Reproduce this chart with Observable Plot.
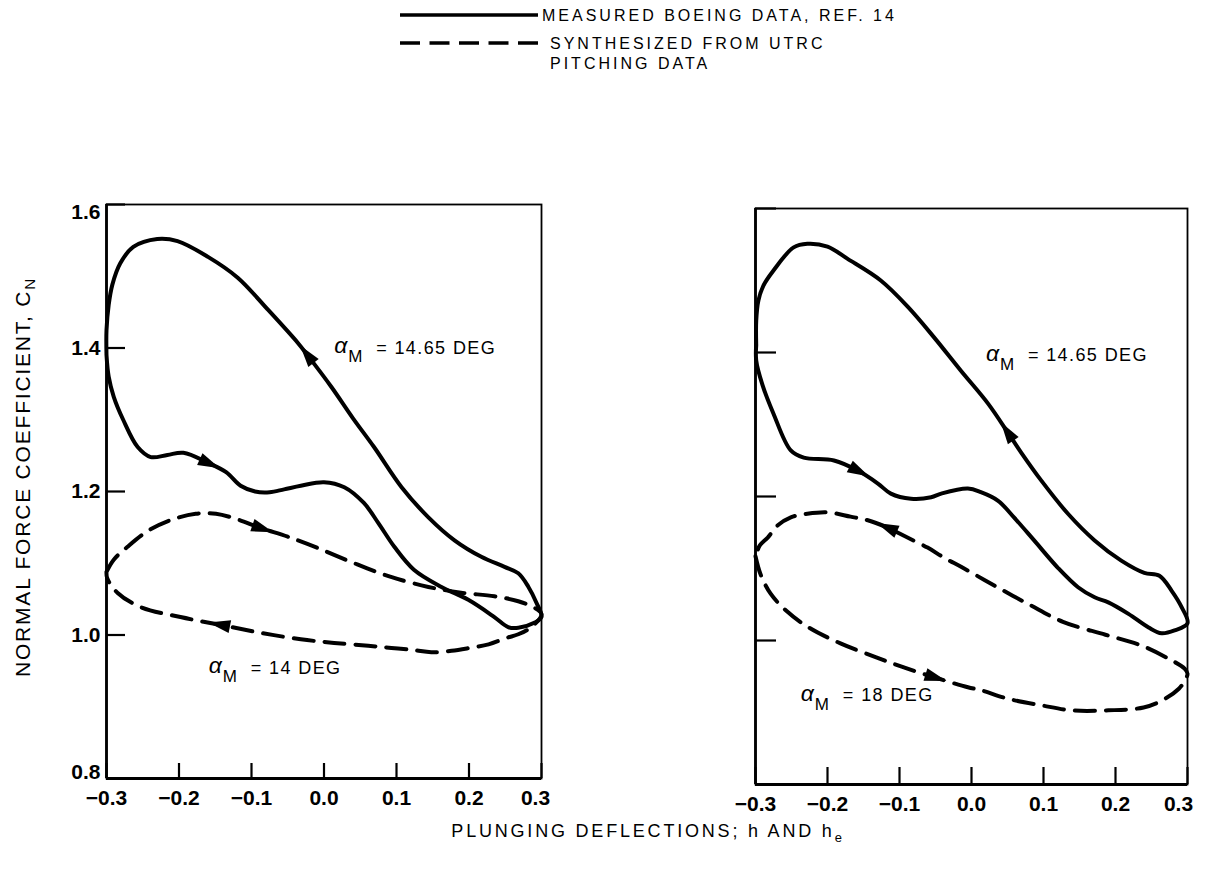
<!DOCTYPE html>
<html>
<head>
<meta charset="utf-8">
<script src="https://cdn.jsdelivr.net/npm/d3@7"></script>
<script src="https://cdn.jsdelivr.net/npm/@observablehq/plot@0.6"></script>
<style>
  html, body { margin: 0; background: #fff; }
  #fig { position: relative; width: 1205px; height: 872px; overflow: hidden; color: #000;
         font-family: "Liberation Sans", Arial, Helvetica, sans-serif; }
  .panel { position: absolute; top: 180px; }
  .title { position: absolute; white-space: nowrap; line-height: 1; transform: translate(-50%, -50%); }
  .ytitle { left: 22px; top: 477px; font-size: 21px; letter-spacing: 1.8px; transform: translate(-50%, -50%) rotate(-90deg); }
  .xtitle { left: 648px; top: 831px; font-size: 18px; letter-spacing: 2.8px; }
  .title sub { font-size: 0.72em; vertical-align: -0.35em; line-height: 0; }
  #legend text { font-size: 16px; letter-spacing: 3px; dominant-baseline: central; }
  .panel svg [aria-label="text"] text { letter-spacing: 1.4px; }
</style>
</head>
<body>
<div id="fig">
  <svg id="legend" width="1205" height="80" style="position:absolute;left:0;top:0"></svg>
  <div id="left" class="panel" style="left:0;width:580px"></div>
  <div id="right" class="panel" style="left:640px;width:565px"></div>
  <div class="title ytitle">NORMAL FORCE COEFFICIENT, C<sub>N</sub></div>
  <div class="title xtitle">PLUNGING DEFLECTIONS; h AND h<sub>e</sub></div>
</div>
<script>
// Axis ticks
const xTicks = [-0.3, -0.2, -0.1, 0, 0.1, 0.2, 0.3];
const yTicks = [0.8, 1.0, 1.2, 1.4, 1.6];

// Left panel, measured Boeing loop (alpha_M = 14.65 deg), in order of travel
const boeingLeftH = [-0.300, -0.297, -0.290, -0.277, -0.257, -0.239, -0.216, -0.194, -0.160, -0.135,
  -0.115, -0.095, -0.075, -0.055, -0.032, 0.000, 0.028, 0.055, 0.075, 0.097, 0.124, 0.162, 0.199, 0.235,
  0.254, 0.268, 0.290, 0.300, 0.293, 0.282, 0.268, 0.249, 0.217, 0.180, 0.144, 0.107, 0.069, 0.040,
  0.010, -0.022, -0.036, -0.077, -0.119, -0.160, -0.202, -0.230, -0.263, -0.281, -0.292, -0.297,
  -0.300, -0.300];
const boeingLeftCN = [1.390, 1.360, 1.332, 1.300, 1.262, 1.248, 1.251, 1.254, 1.240, 1.227,
  1.208, 1.200, 1.199, 1.203, 1.208, 1.213, 1.206, 1.184, 1.156, 1.123, 1.091, 1.067, 1.049, 1.025,
  1.011, 1.010, 1.017, 1.025, 1.045, 1.067, 1.086, 1.095, 1.109, 1.132, 1.164, 1.206, 1.262, 1.302,
  1.346, 1.389, 1.407, 1.453, 1.498, 1.527, 1.549, 1.552, 1.541, 1.518, 1.488, 1.460,
  1.425, 1.390];

// Left panel, loop synthesized from UTRC pitching data (alpha_M = 14 deg)
const utrcLeftH = [-0.300, -0.290, -0.271, -0.243, -0.212, -0.177, -0.149, -0.122, -0.087, -0.050,
  -0.008, 0.037, 0.089, 0.144, 0.189, 0.235, 0.268, 0.290, 0.300, 0.286, 0.268, 0.252, 0.227,
  0.201, 0.176, 0.148, 0.124, 0.093, 0.061, 0.014, -0.032, -0.087, -0.142, -0.198, -0.253,
  -0.285, -0.299, -0.300];
const utrcLeftCN = [1.088, 1.105, 1.123, 1.145, 1.160, 1.169, 1.169, 1.162, 1.149, 1.137,
  1.121, 1.102, 1.082, 1.067, 1.059, 1.054, 1.047, 1.038, 1.029, 1.011, 1.001, 0.996, 0.987,
  0.982, 0.978, 0.976, 0.979, 0.982, 0.985, 0.989, 0.994, 1.003, 1.014, 1.025, 1.039,
  1.059, 1.079, 1.088];

// Right panel, measured Boeing loop (alpha_M = 14.65 deg)
const boeingRightH = [-0.299, -0.299, -0.290, -0.275, -0.251, -0.233, -0.191, -0.158, -0.130, -0.112,
  -0.084, -0.056, -0.042, -0.005, 0.013, 0.037, 0.059, 0.087, 0.120, 0.148, 0.171, 0.190, 0.218, 0.246,
  0.264, 0.282, 0.300, 0.292, 0.278, 0.261, 0.240, 0.208, 0.171, 0.134, 0.097, 0.069, 0.051,
  0.023, -0.015, -0.052, -0.088, -0.126, -0.172, -0.200, -0.228, -0.247, -0.275, -0.289, -0.296,
  -0.299, -0.299];
const boeingRightCN = [1.410, 1.389, 1.354, 1.315, 1.264, 1.254, 1.250, 1.236, 1.218, 1.204,
  1.197, 1.199, 1.204, 1.211, 1.206, 1.194, 1.171, 1.139, 1.101, 1.074, 1.060, 1.053, 1.037, 1.018,
  1.010, 1.014, 1.024, 1.046, 1.069, 1.090, 1.094, 1.111, 1.139, 1.176, 1.222, 1.261, 1.288,
  1.329, 1.375, 1.421, 1.463, 1.500, 1.530, 1.547, 1.551, 1.546, 1.514, 1.493, 1.472,
  1.444, 1.410];

// Right panel, loop synthesized from UTRC pitching data (alpha_M = 18 deg)
const utrcRightH = [-0.300, -0.293, -0.279, -0.258, -0.226, -0.182, -0.136, -0.098, -0.052, -0.005,
  0.013, 0.051, 0.097, 0.139, 0.190, 0.239, 0.267, 0.288, 0.296, 0.300, 0.296, 0.275, 0.236,
  0.186, 0.127, 0.080, 0.034, -0.012, -0.038, -0.061, -0.091, -0.115, -0.144, -0.168, -0.200,
  -0.228, -0.251, -0.269, -0.283, -0.294, -0.300];
const utrcRightCN = [1.117, 1.092, 1.065, 1.042, 1.018, 0.996, 0.978, 0.964, 0.949, 0.935,
  0.931, 0.919, 0.910, 0.903, 0.903, 0.907, 0.918, 0.933, 0.944, 0.954, 0.961, 0.974, 0.993,
  1.008, 1.026, 1.050, 1.075, 1.101, 1.115, 1.129, 1.144, 1.156, 1.167, 1.172, 1.178,
  1.176, 1.171, 1.160, 1.143, 1.132, 1.117];

// Where the direction arrowheads sit on each loop
const boeingLeftArrowH = [-0.160, -0.022];
const boeingLeftArrowCN = [1.240, 1.389];
const utrcLeftArrowH = [-0.087, -0.142];
const utrcLeftArrowCN = [1.149, 1.014];
const boeingRightArrowH = [-0.158, 0.051];
const boeingRightArrowCN = [1.236, 1.288];
const utrcRightArrowH = [-0.052, -0.115];
const utrcRightArrowCN = [0.949, 1.156];

// Loop labels: alpha_M value and where the label starts
const leftNotes = [{h: 0.014, cn: 1.400, value: "14.65"}, {h: -0.159, cn: 0.954, value: "14"}];
const rightNotes = [{h: 0.020, cn: 1.396, value: "14.65"}, {h: -0.237, cn: 0.924, value: "18"}];

const toPoints = (hs, cns) => hs.map((h, i) => ({h, cn: cns[i]}));

// Arrowhead oriented along the loop at the vertex nearest each requested spot
function heads(pts, ah, acn, kx, ky) {
  return ah.map((h, j) => {
    let best = 0, bd = Infinity;
    pts.forEach((p, i) => {
      const d = (p.h - h) ** 2 + (p.cn - acn[j]) ** 2;
      if (d < bd) { bd = d; best = i; }
    });
    const a = pts[Math.max(best - 1, 0)], b = pts[Math.min(best + 1, pts.length - 1)];
    const sx = (b.h - a.h) * kx, sy = -(b.cn - a.cn) * ky;
    return {h: pts[best].h, cn: pts[best].cn, angle: Math.atan2(sx, -sy) * 180 / Math.PI};
  });
}

const arrowHead = {
  draw(ctx) {
    ctx.moveTo(0, -13);
    ctx.lineTo(6.5, 9);
    ctx.lineTo(-6.5, 9);
    ctx.closePath();
  }
};

function panel(cfg) {
  const {width, height, mL, mR, mT, mB, boeing, utrc, bArrows, uArrows, notes, yLabels,
         xTickLen, yTickLen, endDx} = cfg;
  const kx = (width - mL - mR) / 0.6, ky = (height - mT - mB) / 0.8;
  const arrows = [...heads(boeing, bArrows[0], bArrows[1], kx, ky),
                  ...heads(utrc, uArrows[0], uArrows[1], kx, ky)];
  const fmtY = d => d.toFixed(1);
  const tickText = {stroke: "none", tickSize: 0, label: null, fontWeight: "bold"};
  const marks = [
    Plot.frame({strokeWidth: 1.8}),
    Plot.ruleX([-0.3], {strokeWidth: 2.8}),
    Plot.ruleY([0.8], {strokeWidth: 2.8}),
    Plot.axisX(xTicks, {tickSize: -xTickLen, strokeWidth: 2.2, fill: "none", label: null}),
    Plot.axisX(xTicks.slice(0, -1), {...tickText, tickPadding: 12}),
    Plot.axisX(xTicks.slice(-1), {...tickText, tickPadding: 12, dx: endDx}),
    Plot.axisY(yTicks, {tickSize: -yTickLen, strokeWidth: 2.2, fill: "none", label: null})
  ];
  if (yLabels) {
    marks.push(
      Plot.axisY(yTicks.slice(1, -1), {...tickText, tickPadding: 6, tickFormat: fmtY}),
      Plot.axisY(yTicks.slice(-1), {...tickText, tickPadding: 6, tickFormat: fmtY, dy: 8}),
      Plot.axisY(yTicks.slice(0, 1), {...tickText, tickPadding: 6, tickFormat: fmtY, dy: -6})
    );
  }
  marks.push(
    Plot.line(utrc, {x: "h", y: "cn", curve: "catmull-rom", stroke: "black", strokeWidth: 4,
                     strokeDasharray: "20,11"}),
    Plot.line(boeing, {x: "h", y: "cn", curve: "catmull-rom", stroke: "black", strokeWidth: 4}),
    Plot.dot(arrows, {x: "h", y: "cn", rotate: "angle", symbol: arrowHead, fill: "black",
                      stroke: "none", r: 5}),
    Plot.text(notes, {x: "h", y: "cn", text: () => "α", textAnchor: "start", fontSize: 23,
                      fontStyle: "italic", dy: -2}),
    Plot.text(notes, {x: "h", y: "cn", text: () => "M", textAnchor: "start", fontSize: 17,
                      dx: 14, dy: 9}),
    Plot.text(notes, {x: "h", y: "cn", text: d => `= ${d.value} DEG`, textAnchor: "start",
                      fontSize: 18, dx: 42})
  );
  return Plot.plot({
    width, height,
    marginLeft: mL, marginRight: mR, marginTop: mT, marginBottom: mB,
    x: {domain: [-0.3, 0.3]},
    y: {domain: [0.8, 1.6]},
    style: {fontFamily: '"Liberation Sans", Arial, Helvetica, sans-serif', fontSize: "21px",
            color: "black", background: "none", overflow: "visible"},
    marks
  });
}

document.getElementById("left").append(panel({
  width: 580, height: 650, mL: 106, mR: 39, mT: 24, mB: 52,
  boeing: toPoints(boeingLeftH, boeingLeftCN), utrc: toPoints(utrcLeftH, utrcLeftCN),
  bArrows: [boeingLeftArrowH, boeingLeftArrowCN], uArrows: [utrcLeftArrowH, utrcLeftArrowCN],
  notes: leftNotes, yLabels: true, xTickLen: 15, yTickLen: 19, endDx: -6
}));

document.getElementById("right").append(panel({
  width: 565, height: 650, mL: 115, mR: 18, mT: 28, mB: 46,
  boeing: toPoints(boeingRightH, boeingRightCN), utrc: toPoints(utrcRightH, utrcRightCN),
  bArrows: [boeingRightArrowH, boeingRightArrowCN], uArrows: [utrcRightArrowH, utrcRightArrowCN],
  notes: rightNotes, yLabels: false, xTickLen: 17, yTickLen: 21, endDx: -9
}));

// Legend: line-style key above the panels
const legend = d3.select("#legend");
legend.append("line").attr("x1", 400).attr("x2", 538).attr("y1", 15).attr("y2", 15)
  .attr("stroke", "black").attr("stroke-width", 3.5);
legend.append("text").attr("x", 542).attr("y", 15).text("MEASURED BOEING DATA, REF. 14");
legend.append("line").attr("x1", 400).attr("x2", 538).attr("y1", 43).attr("y2", 43)
  .attr("stroke", "black").attr("stroke-width", 3.5).attr("stroke-dasharray", "20,9.5");
legend.append("text").attr("x", 550).attr("y", 43).text("SYNTHESIZED FROM UTRC");
legend.append("text").attr("x", 550).attr("y", 63).text("PITCHING DATA");
</script>
</body>
</html>
